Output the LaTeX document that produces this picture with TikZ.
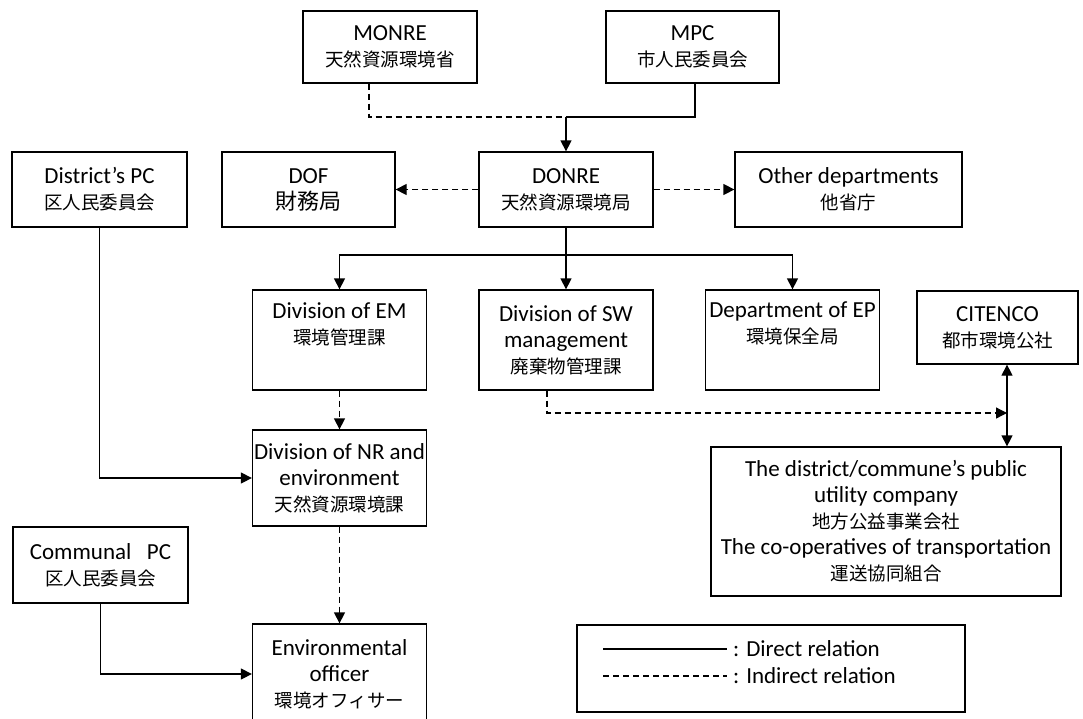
\documentclass[tikz,border=0pt]{standalone}
\usepackage{fontspec}
\setmainfont{Carlito}
\newfontfamily\cjk{Noto Sans CJK JP}
\usetikzlibrary{arrows.meta}
\newcommand\jp[1]{{\cjk\fontsize{18.5}{26}\selectfont #1}}
\newcommand\jpbig[1]{{\cjk\fontsize{22}{26}\selectfont #1}}
\begin{document}
\begin{tikzpicture}[x=1pt,y=-1pt,
  box/.style={draw, line width=1.3pt, align=center, inner sep=0pt, font=\fontsize{23}{26}\selectfont},
  direct/.style={line width=1.3pt},
  indirect/.style={line width=1.3pt, dash pattern=on 6pt off 4pt},
  arr/.style={-{Triangle[length=11pt,width=11pt]}},
  darr/.style={{Triangle[length=11pt,width=11pt]}-{Triangle[length=11pt,width=11pt]}},
  lbl/.style={font=\fontsize{23}{26}\selectfont, inner sep=0pt, anchor=west}]
\useasboundingbox (0,0) rectangle (1083,718);
\clip (0,0) rectangle (1083,718);
\fill[white] (0,0) rectangle (1083,718);

% row 1
\node[box, minimum width=174pt, minimum height=72pt] (MONRE) at (390,47) {MONRE\\\jp{天然資源環境省}};
\node[box, minimum width=173pt, minimum height=72pt] (MPC) at (692.5,47) {MPC\\\jp{市人民委員会}};

% row 2
\node[box, minimum width=175pt, minimum height=75pt] (DPC) at (99.5,189.5) {District's PC\\\jp{区人民委員会}};
\node[box, minimum width=173pt, minimum height=75pt] (DOF) at (308.5,189.5) {DOF\\\jpbig{財務局}};
\node[box, minimum width=174pt, minimum height=75pt] (DONRE) at (566,189.5) {DONRE\\\jp{天然資源環境局}};
\node[box, minimum width=227pt, minimum height=75pt] (OTHER) at (848.5,189.5) {Other departments\\\jp{他省庁}};

% row 3
\node[box, minimum width=174pt, minimum height=100pt] (EM) at (339.5,340) {Division of EM\\\jp{環境管理課}\\\strut};
\node[box, minimum width=174pt, minimum height=100pt] (SW) at (566,340) {Division of SW\\management\\\jp{廃棄物管理課}};
\node[box, minimum width=174pt, minimum height=100pt] (EP) at (792.5,340) {Department of EP\\\jp{環境保全局}\\\strut};
\node[box, minimum width=161pt, minimum height=73pt] (CIT) at (997.5,327.5) {CITENCO\\\jp{都市環境公社}};

% lower rows
\node[box, minimum width=174pt, minimum height=96pt] (NR) at (339.5,478) {Division of NR and\\environment\\\jp{天然資源環境課}};
\node[box, minimum width=175pt, minimum height=76pt] (CPC) at (100.5,565) {Communal~~~PC\\\jp{区人民委員会}};
\node[box, minimum width=174pt, minimum height=100pt] (ENV) at (339.5,674) {Environmental\\officer\\\jp{環境オフィサー}};
\node[box, minimum width=350pt, minimum height=149pt] (PUB) at (886,521.5) {The district/commune's public\\utility company\\\jp{地方公益事業会社}\\The co-operatives of transportation\\\jp{運送協同組合}};

% legend
\node[box, minimum width=388pt, minimum height=87pt] (LEG) at (771,668.5) {};
\coordinate (l1a) at (603,649);
\coordinate (l1b) at (727,649);
\coordinate (l2a) at (603,676);
\coordinate (l2b) at (727,676);
\draw[direct] (l1a) -- (l1b);
\draw[indirect] (l2a) -- (l2b);
\node[lbl] (t1) at (733,649) {: Direct relation};
\node[lbl] (t2) at (733,676) {: Indirect relation};

% connectors
\coordinate (j) at (566,117);
\coordinate (monx) at (369,0);
\coordinate (mpcx) at (695,0);
\draw[indirect] (monx |- MONRE.south) |- (j);
\draw[direct] (mpcx |- MPC.south) |- (j);
\draw[direct, arr] (j) -- (DONRE.north);
\draw[indirect, arr] (DONRE.west) -- (DOF.east);
\draw[indirect, arr] (DONRE.east) -- (OTHER.west);

\coordinate (h) at (566,255);
\draw[direct] (DONRE.south) -- (h);
\draw[direct, arr] (h) -| (EM.north);
\draw[direct, arr] (h) -| (EP.north);
\draw[direct, arr] (h) -- (SW.north);

\draw[indirect, arr] (EM.south) -- (NR.north);
\draw[indirect, arr] (NR.south) -- (ENV.north);
\draw[direct, arr] (DPC.south) |- (NR.west);
\draw[direct, arr] (CPC.south) |- (ENV.west);

\coordinate (cx) at (1007,0);
\coordinate (swx) at (547,0);
\coordinate (k) at (1007,413);
\draw[direct, darr] (cx |- CIT.south) -- (cx |- PUB.north);
\draw[indirect, arr] (swx |- SW.south) |- (k);
\end{tikzpicture}
\end{document}
